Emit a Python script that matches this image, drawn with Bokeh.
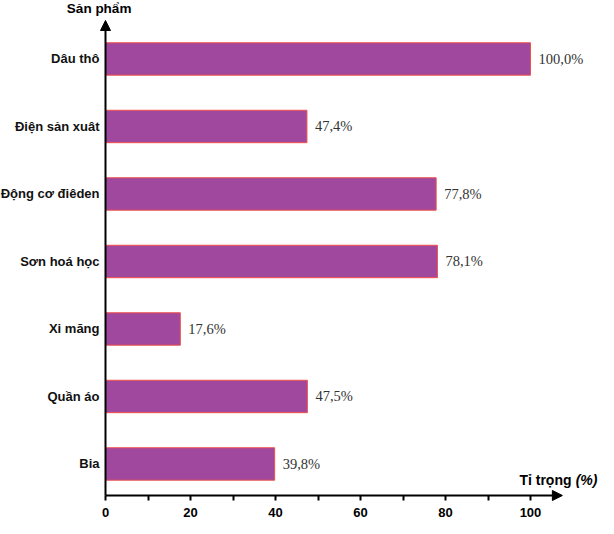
from bokeh.plotting import figure
from bokeh.models import Range1d, FixedTicker, Label, Arrow, NormalHead, ColumnDataSource
from bokeh.embed import file_html
from bokeh.resources import INLINE
from bokeh.core.properties import value

categories = ["Dâu thô", "Điện sản xuât", "Động cơ điêden", "Sơn hoá học", "Xi măng", "Quần áo", "Bia"]
values = [100.0, 47.4, 77.8, 78.1, 17.6, 47.5, 39.8]
value_labels = ["100,0%", "47,4%", "77,8%", "78,1%", "17,6%", "47,5%", "39,8%"]
x_ticks = [0, 20, 40, 60, 80, 100]
x_minor = [0, 10, 20, 30, 40, 50, 60, 70, 80, 90, 100]

n = len(categories)
ypos = [n - 1 - i for i in range(n)]

src = ColumnDataSource(dict(y=ypos, v=values, lab=value_labels, cat=categories))

# pixel geometry (figure coords): axis x at 105px, 4.25 px per unit; 67.5 px per category
XS = 4.25
X0 = -105 / XS
YS = 67.5
AXY = -0.467
Y0 = AXY - 23 / YS

p = figure(width=598, height=518, output_backend="svg", toolbar_location=None,
           x_range=Range1d(X0, X0 + 598 / XS), y_range=Range1d(Y0, Y0 + 518 / YS),
           min_border=0)
p.outline_line_color = None
p.grid.visible = False

p.hbar(y="y", right="v", left=0, height=0.48, source=src,
       fill_color="#A0479E", line_color="#F0504A", line_width=1)

p.text(x="v", y="y", text="lab", source=src, x_offset=8, text_baseline="middle",
       text_font=value("Liberation Serif"), text_font_size="14.5px", text_color="#333333")

# x axis
xa = p.xaxis[0]
xa.fixed_location = AXY
xa.ticker = FixedTicker(ticks=x_ticks, minor_ticks=x_minor)
xa.axis_line_color = None
xa.major_tick_in = 0
xa.major_tick_out = 0
xa.minor_tick_in = 0
xa.minor_tick_out = 5
xa.minor_tick_line_width = 2
xa.minor_tick_line_color = "black"
xa.major_label_standoff = 7
xa.major_label_text_font = "Liberation Sans"
xa.major_label_text_font_style = "bold"
xa.major_label_text_font_size = "13px"
xa.major_label_text_color = "black"

# y axis
ya = p.yaxis[0]
ya.fixed_location = 0
ya.ticker = FixedTicker(ticks=ypos, minor_ticks=[])
ya.major_label_overrides = {yy: c for yy, c in zip(ypos, categories)}
ya.axis_line_color = None
ya.major_tick_in = 0
ya.major_tick_out = 0
ya.minor_tick_out = 0
ya.major_label_standoff = 6
ya.major_label_text_font = "Liberation Sans"
ya.major_label_text_font_style = "bold"
ya.major_label_text_font_size = "13px"
ya.major_label_text_color = "#111111"

# axis lines with arrow heads
p.add_layout(Arrow(x_start=0, y_start=AXY, x_end=0, y_end=6.57, line_width=2, line_color="black",
                   end=NormalHead(size=10, fill_color="black", line_color="black")))
p.add_layout(Arrow(x_start=0, y_start=AXY, x_end=107.5, y_end=AXY, line_width=2, line_color="black",
                   end=NormalHead(size=10, fill_color="black", line_color="black")))

p.add_layout(Label(x=-1.5, y=6.75, text="Sản phẩm", text_align="center",
                   text_baseline="middle", text_font="Liberation Sans", text_font_style="bold",
                   text_font_size="13.5px", text_color="black"))
p.add_layout(Label(x=109.65, y=-0.244, text="Tỉ trọng", text_align="right",
                   text_baseline="middle", text_font="Liberation Sans", text_font_style="bold",
                   text_font_size="14px", text_color="black"))
p.add_layout(Label(x=115.76, y=-0.244, text="(%)", text_align="right",
                   text_baseline="middle", text_font="Liberation Sans", text_font_style="bold italic",
                   text_font_size="14px", text_color="black"))

open("out.html", "w").write(file_html(p, INLINE))
